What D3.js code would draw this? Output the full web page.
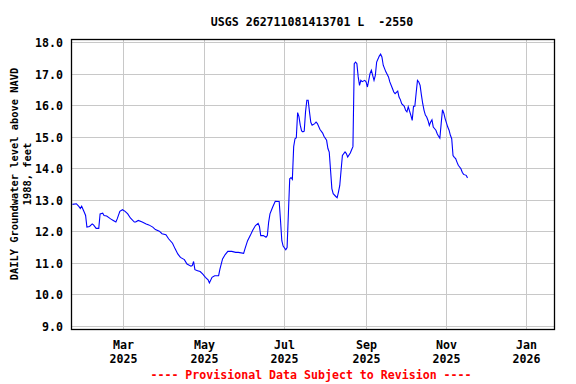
<!DOCTYPE html>
<html lang="en">
<head>
  <meta charset="UTF-8">
  <title>USGS 262711081413701 L -2550</title>
  <script src="https://d3js.org/d3.v7.min.js"></script>
  <style>
    body {
      margin: 0;
      overflow: hidden;
      background: #fff;
    }
    svg {
      display: block;
    }
    text {
      font-family: "DejaVu Sans Mono", monospace;
      font-weight: bold;
      font-size: 11.6px;
    }
    .ylabel {
      font-size: 10.4px;
    }
  </style>
</head>
<body>
  <svg id="chart"></svg>

  <script>
    // Daily groundwater level, feet above NAVD 1988
    const dates = [
      "2025-01-21","2025-01-24","2025-01-26","2025-01-27","2025-01-28","2025-01-30","2025-01-31",
      "2025-02-01","2025-02-03","2025-02-05","2025-02-06","2025-02-08","2025-02-10","2025-02-11",
      "2025-02-13","2025-02-14","2025-02-16","2025-02-19","2025-02-21","2025-02-23","2025-02-24",
      "2025-02-26","2025-02-28","2025-03-02","2025-03-04","2025-03-06","2025-03-09","2025-03-10",
      "2025-03-12","2025-03-15","2025-03-18","2025-03-20","2025-03-23","2025-03-25","2025-03-28",
      "2025-03-30","2025-04-02","2025-04-04","2025-04-07","2025-04-09","2025-04-11","2025-04-13",
      "2025-04-16","2025-04-18","2025-04-21","2025-04-22","2025-04-23","2025-04-24","2025-04-26",
      "2025-04-28","2025-04-30","2025-05-02","2025-05-04","2025-05-05","2025-05-07","2025-05-09",
      "2025-05-12","2025-05-13","2025-05-15","2025-05-17","2025-05-19","2025-05-22","2025-05-25",
      "2025-05-27","2025-05-31","2025-06-01","2025-06-03","2025-06-05","2025-06-07","2025-06-09",
      "2025-06-11","2025-06-12","2025-06-13","2025-06-15","2025-06-17","2025-06-18","2025-06-19",
      "2025-06-20","2025-06-22","2025-06-24","2025-06-27","2025-06-28","2025-06-29","2025-06-30",
      "2025-07-02","2025-07-03","2025-07-04","2025-07-05","2025-07-06","2025-07-07","2025-07-08",
      "2025-07-09","2025-07-10","2025-07-11","2025-07-12","2025-07-13","2025-07-14","2025-07-15",
      "2025-07-16","2025-07-17","2025-07-18","2025-07-19","2025-07-20","2025-07-21","2025-07-22",
      "2025-07-24","2025-07-25","2025-07-26","2025-07-28","2025-07-30","2025-07-31","2025-08-02",
      "2025-08-03","2025-08-04","2025-08-05","2025-08-06","2025-08-07","2025-08-09","2025-08-10",
      "2025-08-11","2025-08-12","2025-08-13","2025-08-14","2025-08-16","2025-08-17","2025-08-18",
      "2025-08-20","2025-08-21","2025-08-22","2025-08-23","2025-08-24","2025-08-25","2025-08-26",
      "2025-08-27","2025-08-28","2025-08-29","2025-08-31","2025-09-01","2025-09-02","2025-09-03",
      "2025-09-04","2025-09-05","2025-09-06","2025-09-07","2025-09-08","2025-09-09","2025-09-11",
      "2025-09-12","2025-09-13","2025-09-14","2025-09-16","2025-09-18","2025-09-19","2025-09-21",
      "2025-09-22","2025-09-23","2025-09-25","2025-09-26","2025-09-27","2025-09-28","2025-09-30",
      "2025-10-01","2025-10-02","2025-10-03","2025-10-05","2025-10-06","2025-10-07","2025-10-08",
      "2025-10-09","2025-10-10","2025-10-11","2025-10-12","2025-10-13","2025-10-14","2025-10-15",
      "2025-10-16","2025-10-17","2025-10-18","2025-10-19","2025-10-20","2025-10-21","2025-10-22",
      "2025-10-24","2025-10-25","2025-10-26","2025-10-27","2025-10-28","2025-10-29","2025-10-30",
      "2025-10-31","2025-11-02","2025-11-03","2025-11-04","2025-11-05","2025-11-06","2025-11-07",
      "2025-11-08","2025-11-09","2025-11-10","2025-11-12","2025-11-13","2025-11-14","2025-11-16",
      "2025-11-17"
    ];
    const levels = [
      12.87,12.89,12.80,12.74,12.81,12.62,12.52,
      12.15,12.17,12.25,12.22,12.11,12.11,12.57,
      12.59,12.52,12.50,12.41,12.36,12.31,12.41,
      12.65,12.70,12.65,12.57,12.44,12.31,12.31,
      12.36,12.31,12.25,12.22,12.15,12.07,12.02,
      11.94,11.91,11.78,11.64,11.46,11.30,11.19,
      11.12,10.98,10.91,10.93,11.06,10.80,10.77,
      10.74,10.66,10.56,10.48,10.38,10.56,10.61,
      10.61,10.82,11.14,11.28,11.38,11.38,11.35,
      11.35,11.32,11.46,11.72,11.88,12.06,12.20,
      12.27,12.17,11.88,11.88,11.83,11.88,12.31,
      12.57,12.78,12.97,12.96,12.36,11.72,11.55,
      11.43,11.50,12.60,13.68,13.72,13.66,14.70,
      14.95,14.98,15.78,15.65,15.38,15.20,15.17,
      15.19,15.80,16.17,16.17,15.80,15.47,15.38,
      15.43,15.48,15.43,15.24,15.13,15.03,14.90,
      14.64,14.53,13.95,13.37,13.21,13.12,13.08,
      13.26,13.47,13.95,14.42,14.53,14.48,14.37,
      14.50,14.60,14.70,17.33,17.38,17.33,16.91,
      16.64,16.80,16.76,16.80,16.75,16.59,16.80,
      17.02,17.12,16.96,16.80,16.96,17.38,17.57,
      17.63,17.54,17.28,17.07,16.91,16.75,16.54,
      16.43,16.38,16.46,16.27,16.19,16.06,15.98,
      15.85,15.80,15.96,15.69,15.53,15.98,15.98,
      16.40,16.80,16.75,16.64,16.33,16.06,15.85,
      15.70,15.64,15.53,15.37,15.48,15.55,15.32,
      15.22,15.11,15.03,14.97,15.43,15.87,15.76,
      15.59,15.32,15.22,15.06,14.95,14.42,14.36,
      14.32,14.21,14.11,14.00,13.89,13.82,13.79,
      13.71
    ];

    const yTicks = [9, 10, 11, 12, 13, 14, 15, 16, 17, 18];
    const xTicks = ["2025-03-01", "2025-05-01", "2025-07-01", "2025-09-01", "2025-11-01", "2026-01-01"];
    const title = "USGS 262711081413701 L  -2550";
    const yLabel = ["DAILY Groundwater level above NAVD", "1988, feet"];
    const footer = "---- Provisional Data Subject to Revision ----";

    const width = 576;
    const height = 384;
    const parse = d3.timeParse("%Y-%m-%d");
    const data = dates.map((d, i) => ({ date: parse(d), value: levels[i] }));

    const svg = d3.select("#chart")
      .attr("width", width)
      .attr("height", height);

    // scales: the frame is a bit wider than the 9-18 ft range
    const x = d3.scaleTime()
      .domain([new Date(2025, 0, 20, 21, 36), new Date(2026, 0, 21, 21, 36)])
      .range([72.3, 554.3]);
    const y = d3.scaleLinear()
      .domain([9, 18])
      .range([326.5, 42.5]);

    const frame = { left: 71.5, right: 554.5, top: 39.5, bottom: 329.5 };
    const snap = v => Math.floor(v) + 0.5;

    // grid
    svg.append("g")
      .selectAll("line")
      .data(yTicks)
      .join("line")
      .attr("x1", frame.left).attr("x2", frame.right)
      .attr("y1", d => snap(y(d))).attr("y2", d => snap(y(d)))
      .attr("stroke", "#c8c8c8");

    svg.append("g")
      .selectAll("line")
      .data(xTicks.map(parse))
      .join("line")
      .attr("x1", d => snap(x(d))).attr("x2", d => snap(x(d)))
      .attr("y1", frame.top).attr("y2", frame.bottom)
      .attr("stroke", "#c8c8c8");

    // data line
    const line = d3.line()
      .x(d => x(d.date))
      .y(d => y(d.value));

    svg.append("path")
      .datum(data)
      .attr("d", line)
      .attr("fill", "none")
      .attr("stroke", "#0000ff")
      .attr("stroke-width", 1.1);

    // frame
    svg.append("rect")
      .attr("x", frame.left).attr("y", frame.top)
      .attr("width", frame.right - frame.left).attr("height", frame.bottom - frame.top)
      .attr("fill", "none")
      .attr("stroke", "#000")
      .attr("stroke-width", 1.3);

    // y tick labels
    svg.append("g")
      .selectAll("text")
      .data(yTicks)
      .join("text")
      .attr("x", 63)
      .attr("y", d => snap(y(d)) + 4)
      .attr("text-anchor", "end")
      .text(d => d.toFixed(1));

    // x tick labels, month over year
    const fmtMonth = d3.timeFormat("%b");
    const fmtYear = d3.timeFormat("%Y");
    const xl = svg.append("g")
      .selectAll("g")
      .data(xTicks.map(parse))
      .join("g")
      .attr("transform", d => `translate(${snap(x(d))},0)`);
    xl.append("text").attr("y", 349).attr("text-anchor", "middle").text(fmtMonth);
    xl.append("text").attr("y", 363).attr("text-anchor", "middle").text(fmtYear);

    // title
    svg.append("text")
      .attr("x", 312)
      .attr("y", 26)
      .attr("text-anchor", "middle")
      .style("white-space", "pre")
      .text(title);

    // y axis label, two lines
    svg.append("g")
      .attr("transform", "translate(0,174) rotate(-90)")
      .selectAll("text")
      .data(yLabel)
      .join("text")
      .attr("class", "ylabel")
      .attr("x", 0)
      .attr("y", (d, i) => 18 + i * 13)
      .attr("text-anchor", "middle")
      .text(d => d);

    // provisional note
    svg.append("text")
      .attr("x", 311)
      .attr("y", 379)
      .attr("text-anchor", "middle")
      .attr("fill", "#ff0000")
      .text(footer);
  </script>
</body>
</html>
